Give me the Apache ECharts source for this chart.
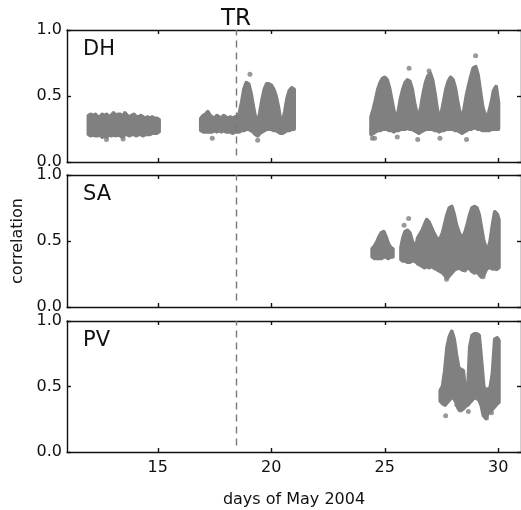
<!DOCTYPE html>
<html><head><meta charset="utf-8">
<script src="https://cdn.jsdelivr.net/npm/echarts@6/dist/echarts.min.js"></script>
<style>html,body{margin:0;padding:0;background:#fff}#c{width:521px;height:510px}</style>
</head><body><div id="c"></div>
<script>
const panelNames = ['DH', 'SA', 'PV'];
const xTicks = [15, 20, 25, 30];
const yTicks = [0, 0.5, 1];
const trDay = 18.45;
const xTitle = 'days of May 2004';
const yTitle = 'correlation';

// [day, lower edge, upper edge] of each dense point cloud
const dhBands = [
  [11.95,0.21,0.35],[12.05,0.20,0.36],[12.15,0.21,0.35],[12.25,0.20,0.36],[12.35,0.20,0.34],
  [12.45,0.21,0.34],[12.55,0.19,0.36],[12.65,0.20,0.35],[12.75,0.19,0.36],[12.85,0.21,0.34],
  [12.95,0.20,0.35],[13.05,0.21,0.37],[13.15,0.20,0.35],[13.25,0.21,0.36],[13.35,0.20,0.36],
  [13.45,0.19,0.34],[13.55,0.21,0.37],[13.65,0.21,0.35],[13.75,0.20,0.34],[13.85,0.21,0.35],
  [13.95,0.21,0.36],[14.05,0.20,0.34],[14.15,0.21,0.34],[14.25,0.21,0.35],[14.35,0.20,0.34],
  [14.45,0.21,0.33],[14.55,0.21,0.34],[14.65,0.21,0.33],[14.75,0.22,0.34],[14.85,0.22,0.33],
  [14.95,0.22,0.33],[15.05,0.23,0.32],
  [16.90,0.24,0.33],[17.00,0.23,0.35],[17.10,0.23,0.36],[17.20,0.23,0.38],[17.30,0.23,0.35],
  [17.40,0.23,0.34],[17.50,0.24,0.33],[17.60,0.23,0.35],[17.70,0.24,0.34],[17.80,0.23,0.33],
  [17.90,0.24,0.35],[18.00,0.23,0.34],[18.10,0.23,0.33],[18.20,0.23,0.34],[18.30,0.22,0.33],
  [18.40,0.23,0.34],[18.50,0.23,0.34],[18.60,0.23,0.37],[18.70,0.24,0.45],[18.80,0.24,0.55],
  [18.90,0.25,0.60],[19.00,0.25,0.59],[19.10,0.24,0.52],[19.20,0.23,0.42],[19.30,0.21,0.33],
  [19.40,0.20,0.30],[19.50,0.22,0.37],[19.60,0.23,0.47],[19.70,0.24,0.55],[19.80,0.25,0.59],
  [19.90,0.25,0.59],[20.00,0.25,0.58],[20.10,0.24,0.55],[20.20,0.24,0.50],[20.30,0.23,0.42],
  [20.40,0.22,0.32],[20.50,0.22,0.30],[20.60,0.23,0.38],[20.70,0.24,0.48],[20.80,0.24,0.54],
  [20.90,0.25,0.56],[21.00,0.25,0.55],
  [24.40,0.21,0.34],[24.50,0.22,0.40],[24.60,0.23,0.47],[24.70,0.24,0.55],[24.80,0.24,0.60],
  [24.90,0.25,0.63],[25.00,0.25,0.64],[25.10,0.25,0.62],[25.20,0.24,0.56],[25.30,0.24,0.47],
  [25.40,0.23,0.38],[25.50,0.24,0.34],[25.60,0.24,0.38],[25.70,0.25,0.48],[25.80,0.25,0.55],
  [25.90,0.25,0.60],[26.00,0.26,0.62],[26.10,0.25,0.61],[26.20,0.25,0.55],[26.30,0.24,0.45],
  [26.40,0.23,0.37],[26.50,0.22,0.34],[26.60,0.23,0.42],[26.70,0.24,0.52],[26.80,0.25,0.60],
  [26.90,0.25,0.65],[27.00,0.25,0.67],[27.10,0.25,0.62],[27.20,0.24,0.52],[27.30,0.24,0.40],
  [27.40,0.23,0.34],[27.50,0.24,0.37],[27.60,0.24,0.46],[27.70,0.25,0.55],[27.80,0.25,0.61],
  [27.90,0.25,0.64],[28.00,0.25,0.62],[28.10,0.24,0.56],[28.20,0.24,0.46],[28.30,0.23,0.37],
  [28.40,0.22,0.34],[28.50,0.23,0.40],[28.60,0.24,0.50],[28.70,0.25,0.58],[28.80,0.25,0.65],
  [28.90,0.26,0.71],[29.00,0.26,0.72],[29.10,0.25,0.66],[29.20,0.25,0.54],[29.30,0.24,0.42],
  [29.40,0.24,0.36],[29.50,0.24,0.34],[29.60,0.24,0.38],[29.70,0.25,0.45],[29.80,0.25,0.54],
  [29.90,0.25,0.57],[30.00,0.25,0.45]
];
const saBands = [
  [24.45,0.38,0.44],[24.55,0.37,0.46],[24.65,0.37,0.49],[24.75,0.37,0.53],[24.85,0.37,0.56],
  [24.95,0.38,0.57],[25.05,0.38,0.53],[25.15,0.37,0.48],[25.25,0.38,0.45],[25.35,0.38,0.44],
  [25.72,0.36,0.45],[25.80,0.35,0.52],[25.90,0.35,0.57],[26.00,0.34,0.58],[26.10,0.34,0.56],
  [26.20,0.35,0.50],[26.30,0.35,0.46],[26.40,0.34,0.47],
  [26.45,0.33,0.52],[26.55,0.32,0.55],[26.65,0.31,0.58],[26.75,0.30,0.62],[26.85,0.31,0.66],
  [26.95,0.30,0.64],[27.05,0.31,0.60],[27.15,0.30,0.56],[27.25,0.29,0.53],[27.35,0.28,0.51],
  [27.45,0.27,0.52],[27.55,0.26,0.56],[27.65,0.24,0.63],[27.75,0.22,0.70],[27.85,0.24,0.75],
  [27.95,0.26,0.76],[28.05,0.28,0.70],[28.15,0.29,0.62],[28.25,0.30,0.57],[28.35,0.29,0.53],
  [28.45,0.28,0.53],[28.55,0.29,0.57],[28.65,0.30,0.63],[28.75,0.29,0.70],[28.85,0.27,0.75],
  [28.95,0.26,0.76],[29.05,0.27,0.75],[29.15,0.25,0.70],[29.25,0.23,0.60],[29.35,0.24,0.50],
  [29.45,0.28,0.45],[29.55,0.30,0.43],[29.65,0.30,0.50],[29.75,0.29,0.62],[29.85,0.30,0.72],
  [29.95,0.29,0.70],[30.02,0.30,0.66]
];
const pvBands = [
  [27.45,0.39,0.47],[27.55,0.37,0.50],[27.65,0.36,0.62],[27.75,0.38,0.80],[27.85,0.40,0.88],
  [27.95,0.42,0.92],[28.05,0.41,0.86],[28.15,0.38,0.74],[28.25,0.33,0.64],[28.35,0.32,0.63],
  [28.45,0.33,0.62],[28.55,0.35,0.45],[28.65,0.36,0.42],[28.75,0.38,0.80],[28.85,0.40,0.89],
  [28.95,0.42,0.90],[29.05,0.41,0.90],[29.15,0.40,0.89],[29.25,0.36,0.70],[29.35,0.28,0.50],
  [29.45,0.26,0.47],[29.55,0.30,0.48],[29.65,0.31,0.49],[29.75,0.33,0.60],[29.85,0.35,0.86],
  [29.95,0.37,0.87],[30.02,0.38,0.85]
];
// isolated points outside the clouds
const dhOutliers = [[12.74,0.17],[13.47,0.175],[17.4,0.18],[19.06,0.665],[19.4,0.165],[20.93,0.255],
  [24.45,0.18],[24.55,0.18],[25.55,0.19],[26.07,0.71],[26.45,0.17],[26.95,0.69],[27.43,0.18],
  [28.6,0.17],[29.0,0.805]];
const saOutliers = [[25.85,0.62],[26.05,0.67],[27.42,0.28],[27.72,0.21],[28.53,0.28],[29.33,0.23],[29.9,0.29]];
const pvOutliers = [[27.68,0.276],[28.17,0.36],[28.32,0.32],[28.68,0.31],[29.48,0.26],[29.7,0.30]];

const bands = [dhBands, saBands, pvBands];
const outliers = [dhOutliers, saOutliers, pvOutliers];

const FONT = 'DejaVu Sans';
const GRAY = '#808080';
const gridTops = [30, 175, 321];
const gridHeights = [132, 132, 131];

// split a band array into contiguous runs (gaps in the record)
function splitRuns(arr) {
  const runs = [];
  let cur = [];
  arr.forEach((d, k) => {
    if (k > 0 && d[0] - arr[k - 1][0] > 0.25) { runs.push(cur); cur = []; }
    cur.push(d);
  });
  if (cur.length) runs.push(cur);
  return runs;
}

const chart = echarts.init(document.getElementById('c'), null, {renderer: 'canvas'});

const grids = [], xAxes = [], yAxes = [], series = [], graphics = [];
const lineStyle = {color: '#111', width: 1.4};
for (let i = 0; i < 3; i++) {
  grids.push({left: 67, right: -1, top: gridTops[i], height: gridHeights[i], containLabel: false});
  const last = i === 2;
  xAxes.push({
    type: 'value', gridIndex: i, min: 11, max: 31, position: 'bottom',
    axisLine: {show: true, onZero: false, lineStyle},
    axisTick: {show: true, inside: true, length: 4, lineStyle, customValues: xTicks},
    axisLabel: {show: last, margin: 8, fontFamily: FONT, fontSize: 16, color: '#111', customValues: xTicks},
    splitLine: {show: false},
    name: last ? xTitle : '', nameLocation: 'middle', nameGap: 40,
    nameTextStyle: {fontFamily: FONT, fontSize: 16, color: '#111'}
  });
  xAxes.push({
    type: 'value', gridIndex: i, min: 11, max: 31, position: 'top',
    axisLine: {show: true, onZero: false, lineStyle},
    axisTick: {show: true, inside: true, length: 4, lineStyle, customValues: xTicks},
    axisLabel: {show: false}, splitLine: {show: false}
  });
  yAxes.push({
    type: 'value', gridIndex: i, min: 0, max: 1, interval: 0.5, position: 'left',
    axisLine: {show: true, onZero: false, lineStyle},
    axisTick: {show: true, inside: true, length: 4, lineStyle},
    axisLabel: {show: true, margin: 5, fontFamily: FONT, fontSize: 16, color: '#111',
      formatter: v => v.toFixed(1), customValues: yTicks},
    splitLine: {show: false},
    name: i === 1 ? yTitle : '', nameLocation: 'middle', nameGap: 41, nameRotate: 90,
    nameTextStyle: {fontFamily: FONT, fontSize: 16, color: '#111'}
  });
  yAxes.push({
    type: 'value', gridIndex: i, min: 0, max: 1, interval: 0.5, position: 'right',
    axisLine: {show: true, onZero: false, lineStyle},
    axisTick: {show: true, inside: true, length: 4, lineStyle},
    axisLabel: {show: false}, splitLine: {show: false}
  });

  const runs = splitRuns(bands[i]);
  series.push({
    type: 'custom', xAxisIndex: 2 * i, yAxisIndex: 2 * i, silent: true, clip: true,
    data: runs.map((run, k) => [run[0][0], run[0][1], run[run.length - 1][0], k]),
    encode: {x: [0, 2], y: 1},
    renderItem: function (params, api) {
      const run = runs[api.value(3)];
      const pts = [];
      run.forEach(d => pts.push(api.coord([d[0], d[2]])));
      for (let k = run.length - 1; k >= 0; k--) pts.push(api.coord([run[k][0], run[k][1]]));
      return {
        type: 'polygon', shape: {points: pts},
        style: {fill: GRAY, stroke: GRAY, lineWidth: 4, lineJoin: 'round'}
      };
    }
  });

  series.push({
    type: 'scatter', xAxisIndex: 2 * i, yAxisIndex: 2 * i, data: outliers[i],
    symbol: 'circle', symbolSize: 5, itemStyle: {color: GRAY}, silent: true,
    markLine: {
      silent: true, symbol: 'none', label: {show: false}, animation: false,
      lineStyle: {color: '#777', type: [7, 5], width: 1.4},
      data: [[{coord: [trDay, 0.05]}, {coord: [trDay, 1]}]]
    }
  });
  graphics.push({
    type: 'text', left: 83, top: gridTops[i] + 21 - 12,
    style: {text: panelNames[i], font: '21px "' + FONT + '"', fill: '#111'}
  });
}
graphics.push({
  type: 'text', x: 236, y: 19.5,
  style: {text: 'TR', font: '23px "' + FONT + '"', fill: '#111', align: 'center', verticalAlign: 'middle'}
});

chart.setOption({
  animation: false,
  backgroundColor: '#fff',
  grid: grids, xAxis: xAxes, yAxis: yAxes, series, graphic: graphics
});
</script>
</body></html>
